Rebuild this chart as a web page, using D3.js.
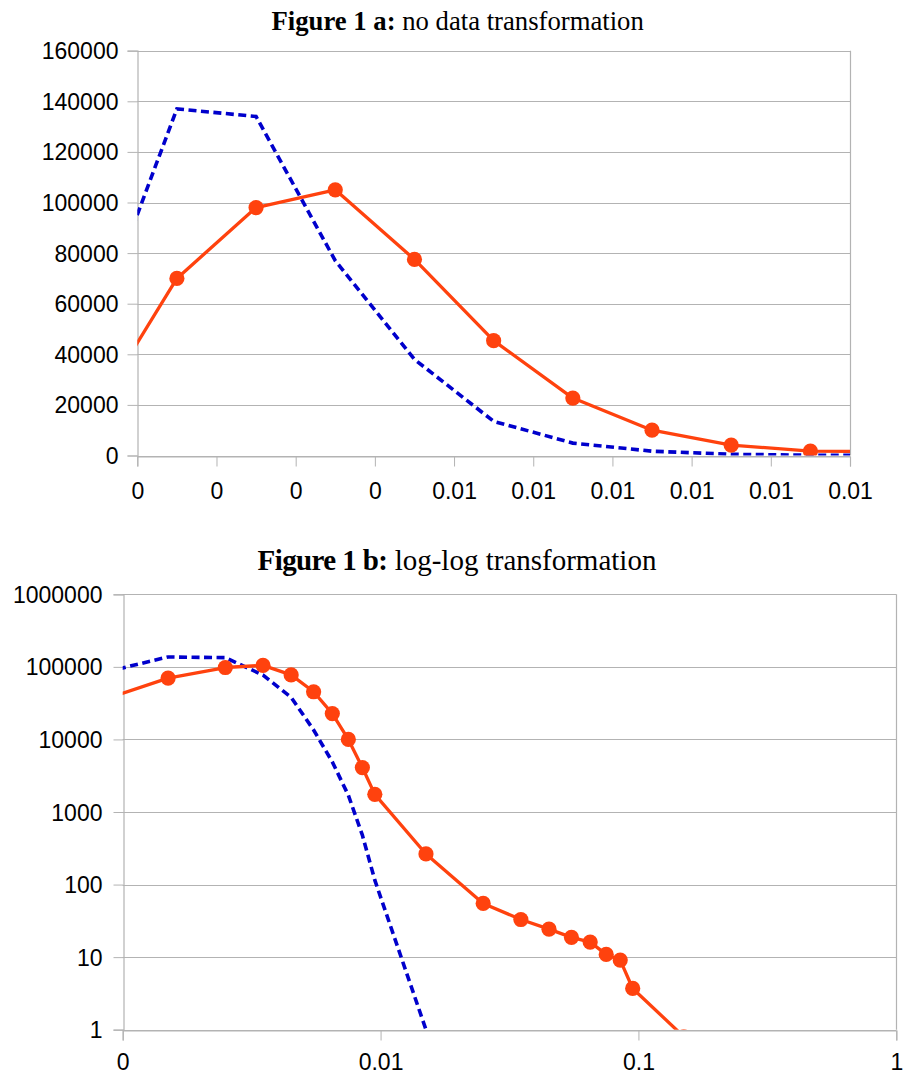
<!DOCTYPE html>
<html>
<head>
<meta charset="utf-8">
<script src="https://cdn.jsdelivr.net/npm/d3@7"></script>
<style>
  html, body { margin: 0; padding: 0; background: #fff; }
  svg { display: block; }
</style>
</head>
<body>
<svg id="chart" width="903" height="1076"></svg>
<script>
// ---------------- data ----------------
const binCenters = [0.0005, 0.0015, 0.0025, 0.0035, 0.0045, 0.0055, 0.0065, 0.0075, 0.0085, 0.0095,
                    0.015, 0.025, 0.035, 0.045, 0.055, 0.065, 0.075, 0.085, 0.095, 0.15];
const orangeSeries = [19000, 70000, 98000, 105000, 77500, 45400, 22700, 10000, 4100, 1750,
                      264, 55, 33, 24.3, 18.7, 16.1, 10.9, 9.1, 3.7, 0.8];
const blueSeries = [53400, 137000, 134000, 77000, 38000, 13500, 4900, 1700, 480, 115,
                    1, 0, 0, 0, 0, 0, 0, 0, 0, 0];

const titleA = ["Figure 1 a:", " no data transformation"];
const titleB = ["Figure 1 b:", " log-log transformation"];

const xTicksTop = [0.001, 0.002, 0.003, 0.004, 0.005, 0.006, 0.007, 0.008, 0.009, 0.010];
const xTickLabelsTop = ["0", "0", "0", "0", "0.01", "0.01", "0.01", "0.01", "0.01", "0.01"];
const yTicksTop = [0, 20000, 40000, 60000, 80000, 100000, 120000, 140000, 160000];

const xTicksLog = [0.001, 0.01, 0.1, 1];
const xTickLabelsLog = ["0", "0.01", "0.1", "1"];
const yTicksLog = [1, 10, 100, 1000, 10000, 100000, 1000000];

// ---------------- styling ----------------
const ORANGE = "#ff420e";
const BLUE = "#0000cc";
const GRID = "#b3b3b3";
const LABEL_FONT = "'Liberation Sans', Arial, sans-serif";
const TITLE_FONT = "'Liberation Serif', 'Times New Roman', serif";

const svg = d3.select("#chart");
const rows = binCenters.map((x, i) => ({ x, o: orangeSeries[i], b: blueSeries[i] }));

function drawPanel(cfg) {
  const { left, right, top, bottom, xScaleType, yScaleType, xDomain, yDomain,
          xTicks, xLabels, yTicks, yLabelFmt, title, titleSize, titleY, id, logMode } = cfg;

  const x = (xScaleType === "log" ? d3.scaleLog() : d3.scaleLinear()).domain(xDomain).range([left, right]);
  const y = (yScaleType === "log" ? d3.scaleLog() : d3.scaleLinear()).domain(yDomain).range([bottom, top]);

  // title
  const t = svg.append("text")
    .attr("x", (left + right) / 2 + cfg.titleDx)
    .attr("y", titleY)
    .attr("text-anchor", "middle")
    .attr("font-family", TITLE_FONT)
    .attr("font-size", titleSize)
    .attr("fill", "#000");
  t.append("tspan").attr("font-weight", "bold").attr("letter-spacing", cfg.boldSpacing).text(title[0]);
  t.append("tspan").text(title[1]);

  // horizontal gridlines
  svg.append("g").selectAll("line").data(yTicks).join("line")
    .attr("x1", left).attr("x2", right)
    .attr("y1", d => Math.round(y(d)) + 0.5).attr("y2", d => Math.round(y(d)) + 0.5)
    .attr("stroke", GRID).attr("stroke-width", 1);

  // right border
  svg.append("line")
    .attr("x1", Math.round(right) + 0.5).attr("x2", Math.round(right) + 0.5)
    .attr("y1", y(yDomain[1])).attr("y2", y(yDomain[0]))
    .attr("stroke", GRID).attr("stroke-width", 1.2);

  // y axis
  const yAxis = d3.axisLeft(y)
    .tickValues(yTicks).tickFormat(yLabelFmt).tickSize(10).tickPadding(cfg.yPad);
  const gy = svg.append("g").attr("transform", `translate(${Math.round(left) + 0.5},0)`).call(yAxis);
  gy.select(".domain").attr("stroke", GRID).attr("stroke-width", 1.2);
  gy.selectAll(".tick line").attr("stroke", GRID);
  gy.selectAll(".tick text").attr("font-family", LABEL_FONT).attr("font-size", 23).attr("fill", "#000")
    .attr("dy", "0.35em");

  // x axis
  const xAxis = d3.axisBottom(x).tickValues(xTicks)
    .tickFormat((d, i) => xLabels[i]).tickSize(10).tickPadding(cfg.xPad);
  const gx = svg.append("g").attr("transform", `translate(0,${Math.round(bottom) + 0.5})`).call(xAxis);
  gx.select(".domain").attr("stroke", GRID).attr("stroke-width", 1.2);
  gx.selectAll(".tick line").attr("stroke", GRID);
  gx.selectAll(".tick text").attr("font-family", LABEL_FONT).attr("font-size", 23).attr("fill", "#000")
    .attr("dy", "0.71em");

  // clip
  svg.append("clipPath").attr("id", id)
    .append("rect").attr("x", left).attr("y", top - 1)
    .attr("width", right - left).attr("height", bottom - top + 1);

  const plot = svg.append("g").attr("clip-path", `url(#${id})`);

  const blueLine = d3.line().x(d => x(d.x)).y(d => y(d.b))
    .defined(d => !logMode || d.b > 0);
  plot.append("path").datum(rows)
    .attr("d", blueLine).attr("fill", "none")
    .attr("stroke", BLUE).attr("stroke-width", 3.6)
    .attr("stroke-dasharray", "8,4.5");

  const orangeLine = d3.line().x(d => x(d.x)).y(d => y(d.o))
    .defined(d => !logMode || d.o > 0);
  plot.append("path").datum(rows)
    .attr("d", orangeLine).attr("fill", "none")
    .attr("stroke", ORANGE).attr("stroke-width", 3.3)
    .attr("stroke-linejoin", "round");

  plot.append("g").selectAll("circle").data(rows.filter(d => !logMode || d.o > 0)).join("circle")
    .attr("cx", d => x(d.x)).attr("cy", d => y(d.o)).attr("r", 7.6)
    .attr("fill", ORANGE);
}

drawPanel({
  id: "clipA", left: 137.3, right: 850, top: 50.7, bottom: 455.5,
  xScaleType: "linear", yScaleType: "linear",
  xDomain: [0.001, 0.010], yDomain: [0, 160000],
  xTicks: xTicksTop, xLabels: xTickLabelsTop, yTicks: yTicksTop,
  yLabelFmt: d3.format("d"), yPad: 9, xPad: 16,
  title: titleA, titleSize: 26.7, titleY: 29.5, titleDx: -36, boldSpacing: 0, logMode: false
});

drawPanel({
  id: "clipB", left: 122.7, right: 896.3, top: 594.3, bottom: 1029.7,
  xScaleType: "log", yScaleType: "log",
  xDomain: [0.001, 1], yDomain: [1, 1000000],
  xTicks: xTicksLog, xLabels: xTickLabelsLog, yTicks: yTicksLog,
  yLabelFmt: d3.format("d"), yPad: 11, xPad: 13,
  title: titleB, titleSize: 29, titleY: 570, titleDx: -52.5, boldSpacing: -0.6, logMode: true
});
</script>
</body>
</html>
